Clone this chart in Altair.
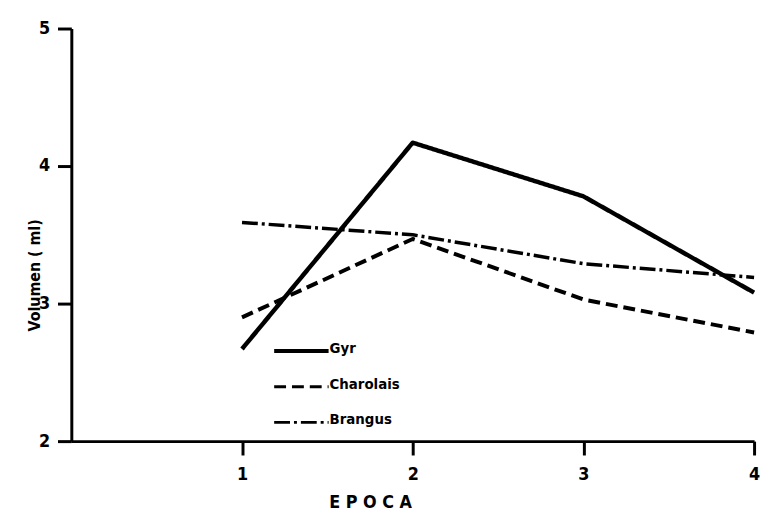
import altair as alt
import pandas as pd

epocas = [1, 2, 3, 4]
series = ["Gyr", "Charolais", "Brangus"]
gyr = [2.67, 4.17, 3.78, 3.08]
charolais = [2.90, 3.47, 3.03, 2.79]
brangus = [3.59, 3.50, 3.29, 3.19]
y_ticks = [2, 3, 4, 5]

rows = []
for name, vals in zip(series, [gyr, charolais, brangus]):
    for e, v in zip(epocas, vals):
        rows.append({"epoca": e, "volumen": v, "raza": name})
df = pd.DataFrame(rows)

FONT = "DejaVu Sans Condensed, Liberation Sans Narrow, DejaVu Sans"
dash_range = [[1, 0], [12, 6], [16, 4, 3, 4]]
width_range = [4.5, 3.5, 3.2]

x = alt.X(
    "epoca:Q",
    scale=alt.Scale(domain=[0, 4], nice=False, zero=False),
    axis=alt.Axis(
        values=epocas, title="E P O C A", format="d",
        tickSize=14, tickWidth=3, domainWidth=3, labelPadding=11,
        labelFlush=False, titleX=302, titleY=62, titleAlign="center",
        titleBaseline="middle", titleFontSize=18,
    ),
)
y = alt.Y(
    "volumen:Q",
    scale=alt.Scale(domain=[2, 5], nice=False, zero=False),
    axis=alt.Axis(
        values=y_ticks, title="Volumen ( ml)", format="d",
        tickSize=14, tickWidth=3, domainWidth=3, labelPadding=8,
        titleX=-37, titleY=249, titleAngle=270, titleAlign="center",
        titleBaseline="middle", titleFontSize=16,
    ),
)

lines = alt.Chart(df).mark_line(color="black", strokeCap="butt", strokeJoin="round").encode(
    x=x,
    y=y,
    detail="raza:N",
    strokeDash=alt.StrokeDash("raza:N", scale=alt.Scale(domain=series, range=dash_range), legend=None),
    strokeWidth=alt.StrokeWidth("raza:N", scale=alt.Scale(domain=series, range=width_range), legend=None),
)

layers = [lines]
for i, name in enumerate(series):
    ly = 326 + 36 * i
    ldf = pd.DataFrame({"raza": [name]})
    layers.append(
        alt.Chart(ldf).mark_rule(color="black", strokeDash=dash_range[i], strokeWidth=width_range[i] - 0.5).encode(
            x=alt.value(205), x2=alt.value(260), y=alt.value(ly)
        )
    )
    layers.append(
        alt.Chart(ldf).mark_text(
            align="left", baseline="alphabetic", font=FONT, fontWeight="bold", fontSize=15, color="black"
        ).encode(x=alt.value(261), y=alt.value(ly + 2), text="raza:N")
    )

chart = alt.layer(*layers).properties(
    width=690, height=417,
    autosize=alt.AutoSizeParams(type="none"),
    padding={"left": 64, "top": 18, "right": 7, "bottom": 80},
).configure_view(stroke=None).configure_axis(
    grid=False,
    labelFont=FONT, labelFontWeight="bold", labelFontSize=18, labelColor="black",
    titleFont=FONT, titleFontWeight="bold", titleColor="black",
    domainColor="black", tickColor="black",
)

chart.save("out.html", embed_options={"renderer": "svg", "actions": False})
